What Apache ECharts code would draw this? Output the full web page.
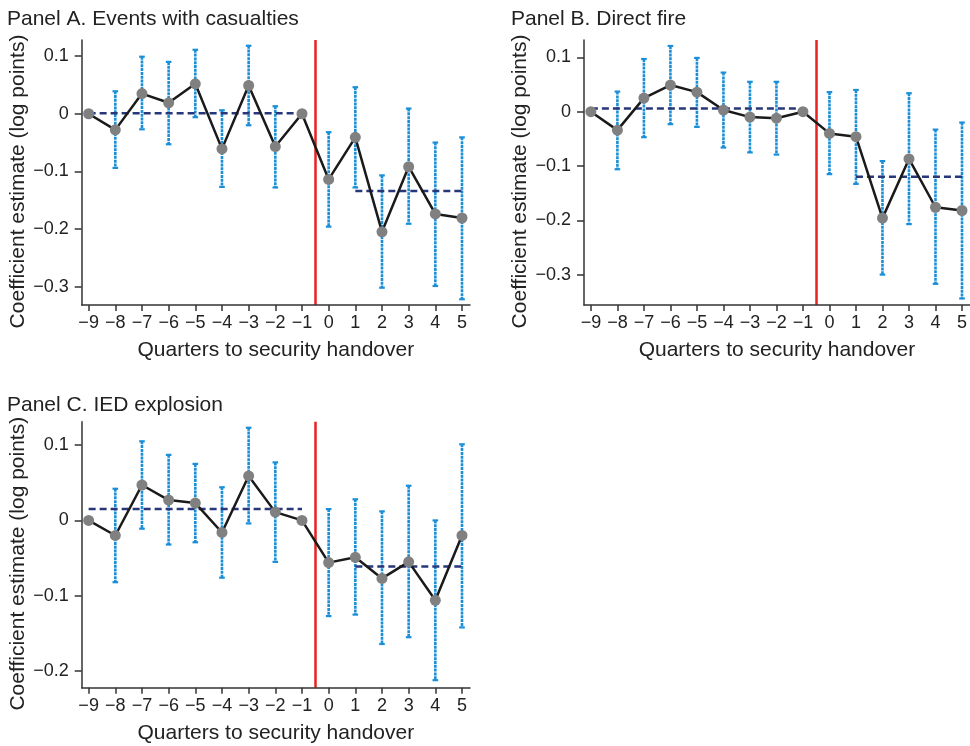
<!DOCTYPE html>
<html>
<head>
<meta charset="utf-8">
<script src="https://cdn.jsdelivr.net/npm/echarts@6/dist/echarts.min.js"></script>
<style>
  html, body { margin: 0; padding: 0; background: #fff; }
  #chart { width: 970px; height: 746px; }
</style>
</head>
<body>
<div id="chart"></div>
<script>
// Quarters relative to the security handover
const quarters = [-9, -8, -7, -6, -5, -4, -3, -2, -1, 0, 1, 2, 3, 4, 5];
const xTicks = [-9, -8, -7, -6, -5, -4, -3, -2, -1, 0, 1, 2, 3, 4, 5];

// Panel A: events with casualties
const coefA = [0, -0.028, 0.035, 0.019, 0.052, -0.061, 0.049, -0.057, 0, -0.114, -0.041, -0.205, -0.092, -0.174, -0.181];
const loA   = [null, -0.094, -0.027, -0.053, -0.006, -0.127, -0.020, -0.128, null, -0.196, -0.128, -0.302, -0.191, -0.299, -0.322];
const hiA   = [null, 0.039, 0.099, 0.090, 0.111, 0.006, 0.118, 0.013, null, -0.032, 0.046, -0.107, 0.009, -0.050, -0.041];
const preMeanA = 0.001, postMeanA = -0.134;
const yTicksA = [-0.3, -0.2, -0.1, 0, 0.1];

// Panel B: direct fire
const coefB = [0, -0.034, 0.025, 0.049, 0.036, 0.003, -0.010, -0.012, 0, -0.040, -0.046, -0.196, -0.087, -0.176, -0.182];
const loB   = [null, -0.106, -0.047, -0.023, -0.028, -0.066, -0.075, -0.079, null, -0.115, -0.133, -0.300, -0.207, -0.317, -0.344];
const hiB   = [null, 0.037, 0.097, 0.121, 0.099, 0.072, 0.055, 0.055, null, 0.036, 0.040, -0.091, 0.034, -0.033, -0.020];
const preMeanB = 0.006, postMeanB = -0.120;
const yTicksB = [-0.3, -0.2, -0.1, 0, 0.1];

// Panel C: IED explosion
const coefC = [0, -0.020, 0.047, 0.027, 0.023, -0.016, 0.059, 0.011, 0, -0.056, -0.049, -0.077, -0.055, -0.106, -0.020];
const loC   = [null, -0.082, -0.011, -0.032, -0.029, -0.076, -0.004, -0.055, null, -0.127, -0.125, -0.164, -0.155, -0.212, -0.142];
const hiC   = [null, 0.042, 0.105, 0.087, 0.075, 0.044, 0.123, 0.077, null, 0.015, 0.028, 0.012, 0.046, 0.000, 0.101];
const preMeanC = 0.015, postMeanC = -0.061;
const yTicksC = [-0.2, -0.1, 0, 0.1];

const handover = -0.5;
const preRange = [-9, -1];
const postRange = [1, 5];

const FONT = '"Liberation Sans", Arial, Helvetica, sans-serif';
const TEXT = '#222';
const AXIS = '#333';
const CI_BLUE = '#1a8fd8';
const NAVY = '#27377a';
const RED = '#e8211f';

const fmt = v => {
  if (v === 0) return '0';
  const s = Math.abs(v).toFixed(1);
  return (v < 0 ? '\u2212' : '') + s;
};
const fmtX = v => (v < 0 ? '\u2212' : '') + Math.abs(v);

const panels = [
  { title: 'Panel A. Events with casualties', coef: coefA, lo: loA, hi: hiA, pre: preMeanA, post: postMeanA, yTicks: yTicksA,
    yMin: -0.332, yMax: 0.128, grid: { left: 81.7, top: 40, width: 388.3, height: 265 }, titlePos: { left: 7, top: 9 } },
  { title: 'Panel B. Direct fire', coef: coefB, lo: loB, hi: hiB, pre: preMeanB, post: postMeanB, yTicks: yTicksB,
    yMin: -0.356, yMax: 0.132, grid: { left: 584, top: 40, width: 389.6, height: 265 }, titlePos: { left: 511, top: 9 } },
  { title: 'Panel C. IED explosion', coef: coefC, lo: loC, hi: hiC, pre: preMeanC, post: postMeanC, yTicks: yTicksC,
    yMin: -0.222, yMax: 0.131, grid: { left: 81.7, top: 421.7, width: 388.3, height: 266 }, titlePos: { left: 7, top: 395 } }
];

const titles = [], grids = [], xAxes = [], yAxes = [], series = [];

panels.forEach((p, i) => {
  titles.push({
    text: p.title, left: p.titlePos.left, top: p.titlePos.top, padding: 0,
    textStyle: { fontFamily: FONT, fontSize: 21, fontWeight: 'normal', color: TEXT }
  });
  grids.push(Object.assign({ containLabel: false }, p.grid));

  xAxes.push({
    type: 'value', gridIndex: i, min: -9.26, max: 5.3,
    name: 'Quarters to security handover', nameLocation: 'middle', nameGap: 35,
    nameTextStyle: { fontFamily: FONT, fontSize: 21, color: TEXT },
    axisLine: { show: true, onZero: false, lineStyle: { color: AXIS, width: 1.5 } },
    axisTick: { show: true, length: 6, customValues: xTicks, lineStyle: { color: AXIS, width: 1.5 } },
    axisLabel: { customValues: xTicks, formatter: fmtX, margin: 9, fontFamily: FONT, fontSize: 18, color: TEXT },
    splitLine: { show: false }
  });
  yAxes.push({
    type: 'value', gridIndex: i, min: p.yMin, max: p.yMax,
    name: 'Coefficient estimate (log points)', nameLocation: 'middle', nameGap: 53, nameRotate: 90,
    nameTextStyle: { fontFamily: FONT, fontSize: 21, color: TEXT, padding: [0, 18, 0, 0] },
    axisLine: { show: true, onZero: false, lineStyle: { color: AXIS, width: 1.5 } },
    axisTick: { show: true, length: 7, customValues: p.yTicks, lineStyle: { color: AXIS, width: 1.5 } },
    axisLabel: { customValues: p.yTicks, formatter: fmt, margin: 13, fontFamily: FONT, fontSize: 18, color: TEXT },
    splitLine: { show: false }
  });

  // Confidence intervals
  const ciData = [];
  quarters.forEach((q, k) => {
    if (p.lo[k] !== null && p.hi[k] !== null) ciData.push([q, p.lo[k], p.hi[k]]);
  });
  series.push({
    type: 'custom', xAxisIndex: i, yAxisIndex: i, z: 1,
    encode: { x: 0, y: [1, 2] },
    data: ciData,
    renderItem: (params, api) => {
      const x = api.value(0);
      const lo = api.coord([x, api.value(1)]);
      const hi = api.coord([x, api.value(2)]);
      const cap = 2.8;
      const style = { stroke: CI_BLUE, lineWidth: 2.6, lineDash: [3, 0.8] };
      const capStyle = { stroke: CI_BLUE, lineWidth: 2.2 };
      return {
        type: 'group',
        children: [
          { type: 'line', shape: { x1: hi[0], y1: hi[1], x2: lo[0], y2: lo[1] }, style },
          { type: 'line', shape: { x1: hi[0] - cap, y1: hi[1], x2: hi[0] + cap, y2: hi[1] }, style: capStyle },
          { type: 'line', shape: { x1: lo[0] - cap, y1: lo[1], x2: lo[0] + cap, y2: lo[1] }, style: capStyle }
        ]
      };
    },
    markLine: {
      silent: true, symbol: 'none', z: 0,
      label: { show: false },
      lineStyle: { color: RED, width: 2.5, type: 'solid' },
      data: [{ xAxis: handover }]
    }
  });

  // Pre- and post-handover means
  series.push({
    type: 'line', xAxisIndex: i, yAxisIndex: i, z: 2, symbol: 'none', silent: true,
    data: [[preRange[0], p.pre], [preRange[1], p.pre]],
    lineStyle: { color: NAVY, width: 2.5, type: [7, 4] }
  });
  series.push({
    type: 'line', xAxisIndex: i, yAxisIndex: i, z: 2, symbol: 'none', silent: true,
    data: [[postRange[0], p.post], [postRange[1], p.post]],
    lineStyle: { color: NAVY, width: 2.5, type: [7, 4] }
  });

  // Point estimates
  series.push({
    type: 'line', xAxisIndex: i, yAxisIndex: i, z: 3,
    data: quarters.map((q, k) => [q, p.coef[k]]),
    symbol: 'circle', symbolSize: 11, showAllSymbol: true,
    itemStyle: { color: '#808080', borderWidth: 0 },
    lineStyle: { color: '#1a1a1a', width: 2.5 }
  });
});

const chart = echarts.init(document.getElementById('chart'), null, { renderer: 'canvas' });
chart.setOption({
  animation: false,
  backgroundColor: '#fff',
  title: titles,
  grid: grids,
  xAxis: xAxes,
  yAxis: yAxes,
  series: series
});
</script>
</body>
</html>
